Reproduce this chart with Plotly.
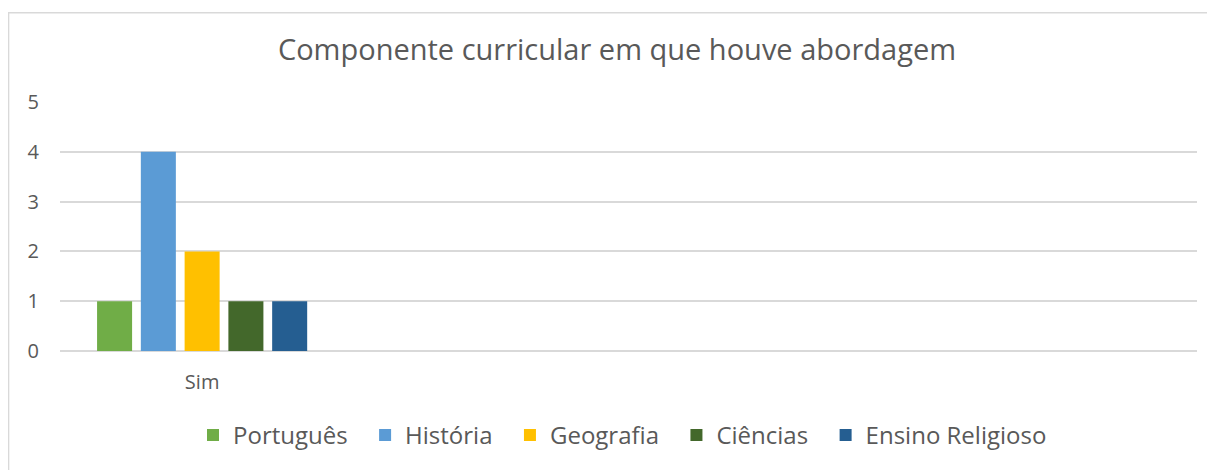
import plotly.graph_objects as go

# ---- data ----
category_labels = ["Sim"]
category_positions = [0]
series_names = ["Português", "História", "Geografia", "Ciências", "Ensino Religioso"]
series_values = [[1], [4], [2], [1], [1]]
series_colors = ["#70AD47", "#5B9BD5", "#FFC000", "#43682B", "#255E91"]
y_ticks = [0, 1, 2, 3, 4, 5]
title_text = "Componente curricular em que houve abordagem"

FONT = "Open Sans"
TXT = "#595959"
GRID = "#D9D9D9"

OFF = 8  # page body margin
W, H = 1215 - OFF, 470 - OFF
L, R, T, B = 60 - OFF, 18, 102 - OFF, 117

fig = go.Figure()
n = len(series_names)
for i, (name, vals, col) in enumerate(zip(series_names, series_values, series_colors)):
    pad = "\u00a0\u00a0" if i < n - 1 else ""
    fig.add_trace(go.Bar(x=category_positions, y=vals, name=name + pad,
                         hovertemplate=name + ": %{y}<extra></extra>",
                         marker=dict(color=col, line=dict(width=0))))

pw = W - L - R
ph = H - T - B
x0 = (8 - OFF - L) / pw + 0.0005
x1 = (W + 5 - L) / pw
y1 = 1 + (T - (12 - OFF)) / ph

fig.update_layout(
    width=W, height=H,
    margin=dict(l=L, r=R, t=T, b=B),
    paper_bgcolor="white", plot_bgcolor="white",
    barmode="group", bargap=0.23, bargroupgap=0.2,
    title=dict(text=title_text, x=(617 - OFF) / W, xanchor="center", y=1 - (50 - OFF) / H,
               yanchor="middle", font=dict(family=FONT, size=29, color=TXT)),
    font=dict(family=FONT, color=TXT),
    xaxis=dict(range=[-0.5, 3.5], tickmode="array", tickvals=category_positions,
               ticktext=category_labels, showgrid=False, zeroline=False,
               showline=False, ticks="", tickfont=dict(size=20, color=TXT), ticklabelstandoff=17),
    yaxis=dict(range=[0, 5], tickmode="array", tickvals=y_ticks, showgrid=True,
               gridcolor=GRID, gridwidth=1.5, zeroline=True, zerolinecolor=GRID, zerolinewidth=1.5,
               showline=False, ticks="", tickfont=dict(size=20, color=TXT), ticklabelstandoff=20),
    legend=dict(orientation="h", x=(622.5 - OFF - L) / pw, xanchor="center",
                y=1 - (438 - OFF - T) / ph, yanchor="middle",
                font=dict(family=FONT, size=24, color=TXT), itemwidth=30, traceorder="normal"),
    showlegend=True,
    shapes=[dict(type="rect", xref="paper", yref="paper", x0=x0, x1=x1, y0=-2, y1=y1,
                 line=dict(color=GRID, width=1.5), fillcolor="rgba(0,0,0,0)", layer="below")],
)

fig.write_html("out.html")
